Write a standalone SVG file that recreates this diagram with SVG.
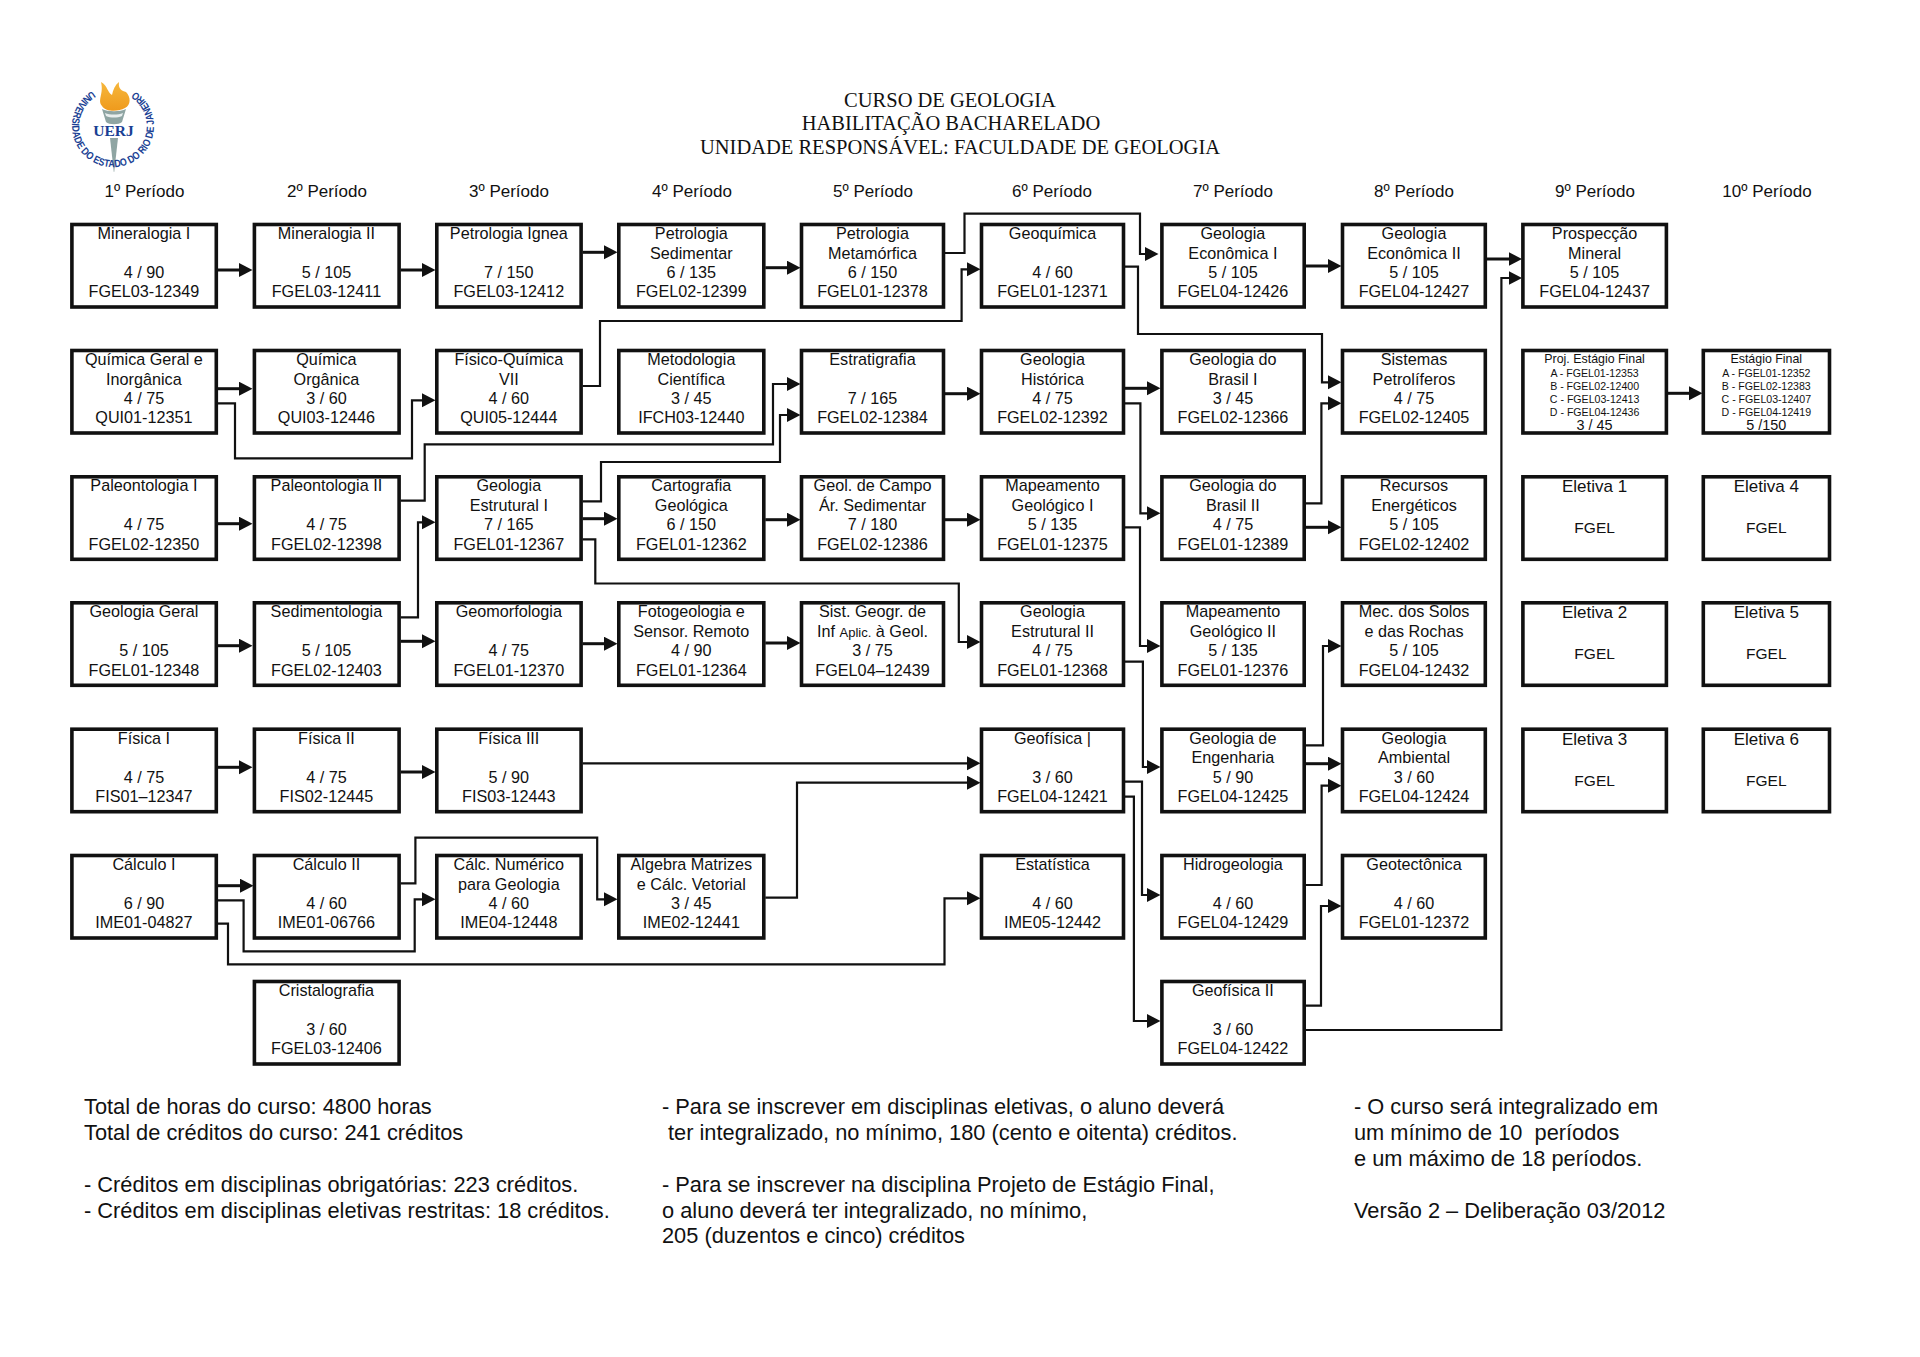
<svg xmlns="http://www.w3.org/2000/svg" width="1920" height="1357" viewBox="0 0 1920 1357">
<style>
text{font-family:"Liberation Sans",Arial,sans-serif;fill:#111}
.b{fill:#fff;stroke:#111;stroke-width:3.6}
.n text{font-size:16.2px;text-anchor:middle}
.n .s{font-size:10.6px}
.n .m{font-size:12.4px}
.n .f{font-size:14.4px}
.n .e{font-size:17px}
.n .g{font-size:15.5px}
.n .x{font-size:13px}
.ti{font-family:"Liberation Serif","Times New Roman",serif;font-size:20.5px;text-anchor:middle}
.p{font-size:17px;text-anchor:middle}
.note{font-size:21.8px;white-space:pre}
.c{fill:none;stroke:#111;stroke-width:3;marker-end:url(#ah)}
.t{fill:none;stroke:#111;stroke-width:2.2;marker-end:url(#ah)}
</style>
<defs>
<marker id="ah" markerUnits="userSpaceOnUse" markerWidth="15" markerHeight="15" refX="7" refY="7" orient="auto"><path d="M0 0L13.500 7L0 14Z" fill="#111"/></marker>
<path id="ring" d="M92 91A41 41 0 1 0 134 91"/>
<linearGradient id="fl" x1="0" y1="0" x2="0" y2="1"><stop offset="0" stop-color="#f6b73c"/><stop offset="1" stop-color="#ef9a1c"/></linearGradient>
</defs>
<rect width="1920" height="1357" fill="#fff"/>

<g id="logo">
<path d="M101 82C108 86 107 92 112 95C113 90 115 85 119 82C118 89 122 91 126 92C131 97 131 105 125 108C118 112 106 112 102 106C97 100 104 94 101 82Z" fill="url(#fl)"/>
<path d="M102 109C108 112 120 112 126 109L122 122C119 125 109 125 106 122Z" fill="#8fa5a3"/>
<path d="M105 113C110 115 118 115 123 113L122 116C117 118 111 118 106 116Z" fill="#e8eeee"/>
<path d="M110 138H118L114.200 172H113.800Z" fill="#8fa5a3"/>
<text x="113.500" y="136" style="font-family:'Liberation Serif',serif;font-weight:bold;font-size:15.500px;text-anchor:middle;fill:#1a3f94">UERJ</text>
<text style="font-size:10.500px;font-weight:bold;fill:#1a3f94"><textPath href="#ring" textLength="212" lengthAdjust="spacingAndGlyphs">UNIVERSIDADE DO ESTADO DO RIO DE JANEIRO</textPath></text>
</g>

<g id="titulo">
<text class="ti" x="950" y="106.500">CURSO DE GEOLOGIA</text>
<text class="ti" x="951" y="130">HABILITAÇÃO BACHARELADO</text>
<text class="ti" x="960" y="153.500">UNIDADE RESPONSÁVEL: FACULDADE DE GEOLOGIA</text>
</g>
<g id="periodos">
<text class="p" x="144.500" y="197">1º Período</text>
<text class="p" x="327" y="197">2º Período</text>
<text class="p" x="509" y="197">3º Período</text>
<text class="p" x="692" y="197">4º Período</text>
<text class="p" x="873" y="197">5º Período</text>
<text class="p" x="1052" y="197">6º Período</text>
<text class="p" x="1233" y="197">7º Período</text>
<text class="p" x="1414" y="197">8º Período</text>
<text class="p" x="1595" y="197">9º Período</text>
<text class="p" x="1767" y="197">10º Período</text>
</g>

<g id="conectores">
<path class="c" d="M217.800 270H246"/><path class="c" d="M400.600 270H429"/><path class="c" d="M582.600 252.300H611"/><path class="c" d="M765.300 267.700H794"/>
<path class="t" d="M945 253H964.500V213.700H1140V254H1152"/>
<path class="t" d="M582.600 386H600V321H961.600V269.300H974"/>
<path class="t" d="M1125 266.700H1138V334H1322V382.300H1335"/>
<path class="c" d="M1305.700 266H1335"/><path class="c" d="M1486.800 259H1515.500"/>
<path class="t" d="M1305.700 1030H1501.400V278H1515.500"/>
<path class="c" d="M1667.900 393.300H1696"/>
<path class="c" d="M217.800 388.700H246"/>
<path class="t" d="M217.800 403.300H235V458.300H412V400.300H429"/>
<path class="c" d="M945 393.700H974"/><path class="c" d="M1125 388.300H1154"/>
<path class="t" d="M1125 403.300H1140.400V513.300H1154"/>
<path class="t" d="M400.600 500.700H424.700V444.300H773V384H794"/>
<path class="t" d="M582.600 501.300H601V462H780V415H794"/>
<path class="c" d="M765.300 519.700H794"/><path class="c" d="M945 519.700H974"/>
<path class="t" d="M1125 527.300H1140V646H1154"/>
<path class="c" d="M582.600 518.700H611"/>
<path class="t" d="M582.600 539.300H595.300V583.500H958.800V642H974"/>
<path class="t" d="M400.600 617.300H418V522.300H429"/>
<path class="c" d="M400.600 641.300H429"/><path class="c" d="M582.600 643.700H611"/><path class="c" d="M765.300 643H794"/><path class="c" d="M217.800 645.700H246"/><path class="c" d="M217.800 523.700H246"/>
<path class="t" d="M1305.700 503.300H1321.400V403.300H1335"/>
<path class="c" d="M1305.700 527.300H1335"/>
<path class="t" d="M1305.700 745.300H1323V646H1335"/>
<path class="c" d="M1305.700 763.700H1335"/>
<path class="t" d="M1305.700 885H1321.600V785.700H1335"/>
<path class="t" d="M1305.700 1005.700H1321V906H1335"/>
<path class="t" d="M1125 661.700H1142.900V767H1154"/>
<path class="t" d="M1125 781.700H1142V895H1154"/>
<path class="t" d="M1125 796.700H1133.900V1021H1154"/>
<path class="t" d="M582.600 763.300H974"/>
<path class="t" d="M765.300 897.700H797V782.700H974"/>
<path class="c" d="M217.800 767.300H246"/><path class="c" d="M400.600 772H429"/>
<path class="c" d="M217.800 885.700H247"/>
<path class="t" d="M217.800 900.300H243.600V951.300H414.700V899.300H429"/>
<path class="t" d="M217.800 923.700H228V964.300H944.500V898.300H974"/>
<path class="t" d="M400.600 883.300H415.400V837.700H597.200V899.300H611"/>
</g>

<g id="n01" class="n" transform="translate(71.900,224.500)"><rect class="b" width="144.400" height="82.500"/><text x="72" y="14.500">Mineralogia I</text><text x="72" y="53.500">4 / 90</text><text x="72" y="72.800">FGEL03-12349</text></g>
<g id="n02" class="n" transform="translate(254.400,224.500)"><rect class="b" width="144.700" height="82.500"/><text x="72" y="14.500">Mineralogia II</text><text x="72" y="53.500">5 / 105</text><text x="72" y="72.800">FGEL03-12411</text></g>
<g id="n03" class="n" transform="translate(436.800,224.500)"><rect class="b" width="144.300" height="82.500"/><text x="72" y="14.500">Petrologia Ígnea</text><text x="72" y="53.500">7 / 150</text><text x="72" y="72.800">FGEL03-12412</text></g>
<g id="n04" class="n" transform="translate(618.800,224.500)"><rect class="b" width="145" height="82.500"/><text x="72.500" y="14.500">Petrologia</text><text x="72.500" y="34.300">Sedimentar</text><text x="72.500" y="53.500">6 / 135</text><text x="72.500" y="72.800">FGEL02-12399</text></g>
<g id="n05" class="n" transform="translate(801.500,224.500)"><rect class="b" width="142" height="82.500"/><text x="71" y="14.500">Petrologia</text><text x="71" y="34.300">Metamórfica</text><text x="71" y="53.500">6 / 150</text><text x="71" y="72.800">FGEL01-12378</text></g>
<g id="n06" class="n" transform="translate(981.500,224.500)"><rect class="b" width="142" height="82.500"/><text x="71" y="14.500">Geoquímica</text><text x="71" y="53.500">4 / 60</text><text x="71" y="72.800">FGEL01-12371</text></g>
<g id="n07" class="n" transform="translate(1161.900,224.500)"><rect class="b" width="142.300" height="82.500"/><text x="71" y="14.500">Geologia</text><text x="71" y="34.300">Econômica I</text><text x="71" y="53.500">5 / 105</text><text x="71" y="72.800">FGEL04-12426</text></g>
<g id="n08" class="n" transform="translate(1342.500,224.500)"><rect class="b" width="142.800" height="82.500"/><text x="71.500" y="14.500">Geologia</text><text x="71.500" y="34.300">Econômica II</text><text x="71.500" y="53.500">5 / 105</text><text x="71.500" y="72.800">FGEL04-12427</text></g>
<g id="n09" class="n" transform="translate(1522.900,224.500)"><rect class="b" width="143.500" height="82.500"/><text x="71.700" y="14.500">Prospecção</text><text x="71.700" y="34.300">Mineral</text><text x="71.700" y="53.500">5 / 105</text><text x="71.700" y="72.800">FGEL04-12437</text></g>

<g id="n10" class="n" transform="translate(71.900,350.500)"><rect class="b" width="144.400" height="82.500"/><text x="72" y="14.500">Química Geral e</text><text x="72" y="34.300">Inorgânica</text><text x="72" y="53.500">4 / 75</text><text x="72" y="72.800">QUI01-12351</text></g>
<g id="n11" class="n" transform="translate(254.400,350.500)"><rect class="b" width="144.700" height="82.500"/><text x="72" y="14.500">Química</text><text x="72" y="34.300">Orgânica</text><text x="72" y="53.500">3 / 60</text><text x="72" y="72.800">QUI03-12446</text></g>
<g id="n12" class="n" transform="translate(436.800,350.500)"><rect class="b" width="144.300" height="82.500"/><text x="72" y="14.500">Físico-Química</text><text x="72" y="34.300">VII</text><text x="72" y="53.500">4 / 60</text><text x="72" y="72.800">QUI05-12444</text></g>
<g id="n13" class="n" transform="translate(618.800,350.500)"><rect class="b" width="145" height="82.500"/><text x="72.500" y="14.500">Metodologia</text><text x="72.500" y="34.300">Científica</text><text x="72.500" y="53.500">3 / 45</text><text x="72.500" y="72.800">IFCH03-12440</text></g>
<g id="n14" class="n" transform="translate(801.500,350.500)"><rect class="b" width="142" height="82.500"/><text x="71" y="14.500">Estratigrafia</text><text x="71" y="53.500">7 / 165</text><text x="71" y="72.800">FGEL02-12384</text></g>
<g id="n15" class="n" transform="translate(981.500,350.500)"><rect class="b" width="142" height="82.500"/><text x="71" y="14.500">Geologia</text><text x="71" y="34.300">Histórica</text><text x="71" y="53.500">4 / 75</text><text x="71" y="72.800">FGEL02-12392</text></g>
<g id="n16" class="n" transform="translate(1161.900,350.500)"><rect class="b" width="142.300" height="82.500"/><text x="71" y="14.500">Geologia do</text><text x="71" y="34.300">Brasil I</text><text x="71" y="53.500">3 / 45</text><text x="71" y="72.800">FGEL02-12366</text></g>
<g id="n17" class="n" transform="translate(1342.500,350.500)"><rect class="b" width="142.800" height="82.500"/><text x="71.500" y="14.500">Sistemas</text><text x="71.500" y="34.300">Petrolíferos</text><text x="71.500" y="53.500">4 / 75</text><text x="71.500" y="72.800">FGEL02-12405</text></g>
<g id="n18" class="n" transform="translate(1522.900,350.500)"><rect class="b" width="143.500" height="82.500"/><text class="m" x="71.700" y="12.500">Proj. Estágio Final</text><text class="s" x="71.700" y="26">A - FGEL01-12353</text><text class="s" x="71.700" y="39">B - FGEL02-12400</text><text class="s" x="71.700" y="52">C - FGEL03-12413</text><text class="s" x="71.700" y="65">D - FGEL04-12436</text><text class="f" x="71.700" y="79">3 / 45</text></g>
<g id="n19" class="n" transform="translate(1703.300,350.500)"><rect class="b" width="126.200" height="82.500"/><text class="m" x="63" y="12.500">Estágio Final</text><text class="s" x="63" y="26">A - FGEL01-12352</text><text class="s" x="63" y="39">B - FGEL02-12383</text><text class="s" x="63" y="52">C - FGEL03-12407</text><text class="s" x="63" y="65">D - FGEL04-12419</text><text class="f" x="63" y="79">5 /150</text></g>

<g id="n20" class="n" transform="translate(71.900,476.800)"><rect class="b" width="144.400" height="82.500"/><text x="72" y="14.500">Paleontologia I</text><text x="72" y="53.500">4 / 75</text><text x="72" y="72.800">FGEL02-12350</text></g>
<g id="n21" class="n" transform="translate(254.400,476.800)"><rect class="b" width="144.700" height="82.500"/><text x="72" y="14.500">Paleontologia II</text><text x="72" y="53.500">4 / 75</text><text x="72" y="72.800">FGEL02-12398</text></g>
<g id="n22" class="n" transform="translate(436.800,476.800)"><rect class="b" width="144.300" height="82.500"/><text x="72" y="14.500">Geologia</text><text x="72" y="34.300">Estrutural I</text><text x="72" y="53.500">7 / 165</text><text x="72" y="72.800">FGEL01-12367</text></g>
<g id="n23" class="n" transform="translate(618.800,476.800)"><rect class="b" width="145" height="82.500"/><text x="72.500" y="14.500">Cartografia</text><text x="72.500" y="34.300">Geológica</text><text x="72.500" y="53.500">6 / 150</text><text x="72.500" y="72.800">FGEL01-12362</text></g>
<g id="n24" class="n" transform="translate(801.500,476.800)"><rect class="b" width="142" height="82.500"/><text x="71" y="14.500">Geol. de Campo</text><text x="71" y="34.300">Ár. Sedimentar</text><text x="71" y="53.500">7 / 180</text><text x="71" y="72.800">FGEL02-12386</text></g>
<g id="n25" class="n" transform="translate(981.500,476.800)"><rect class="b" width="142" height="82.500"/><text x="71" y="14.500">Mapeamento</text><text x="71" y="34.300">Geológico I</text><text x="71" y="53.500">5 / 135</text><text x="71" y="72.800">FGEL01-12375</text></g>
<g id="n26" class="n" transform="translate(1161.900,476.800)"><rect class="b" width="142.300" height="82.500"/><text x="71" y="14.500">Geologia do</text><text x="71" y="34.300">Brasil II</text><text x="71" y="53.500">4 / 75</text><text x="71" y="72.800">FGEL01-12389</text></g>
<g id="n27" class="n" transform="translate(1342.500,476.800)"><rect class="b" width="142.800" height="82.500"/><text x="71.500" y="14.500">Recursos</text><text x="71.500" y="34.300">Energéticos</text><text x="71.500" y="53.500">5 / 105</text><text x="71.500" y="72.800">FGEL02-12402</text></g>
<g id="n28" class="n" transform="translate(1522.900,476.800)"><rect class="b" width="143.500" height="82.500"/><text class="e" x="71.700" y="15.500">Eletiva 1</text><text class="g" x="71.700" y="56.500">FGEL</text></g>
<g id="n29" class="n" transform="translate(1703.300,476.800)"><rect class="b" width="126.200" height="82.500"/><text class="e" x="63" y="15.500">Eletiva 4</text><text class="g" x="63" y="56.500">FGEL</text></g>

<g id="n30" class="n" transform="translate(71.900,602.800)"><rect class="b" width="144.400" height="82.500"/><text x="72" y="14.500">Geologia Geral</text><text x="72" y="53.500">5 / 105</text><text x="72" y="72.800">FGEL01-12348</text></g>
<g id="n31" class="n" transform="translate(254.400,602.800)"><rect class="b" width="144.700" height="82.500"/><text x="72" y="14.500">Sedimentologia</text><text x="72" y="53.500">5 / 105</text><text x="72" y="72.800">FGEL02-12403</text></g>
<g id="n32" class="n" transform="translate(436.800,602.800)"><rect class="b" width="144.300" height="82.500"/><text x="72" y="14.500">Geomorfologia</text><text x="72" y="53.500">4 / 75</text><text x="72" y="72.800">FGEL01-12370</text></g>
<g id="n33" class="n" transform="translate(618.800,602.800)"><rect class="b" width="145" height="82.500"/><text x="72.500" y="14.500">Fotogeologia e</text><text x="72.500" y="34.300">Sensor. Remoto</text><text x="72.500" y="53.500">4 / 90</text><text x="72.500" y="72.800">FGEL01-12364</text></g>
<g id="n34" class="n" transform="translate(801.500,602.800)"><rect class="b" width="142" height="82.500"/><text x="71" y="14.500">Sist. Geogr. de</text><text x="71" y="34.300">Inf <tspan class="x">Aplic.</tspan> à Geol.</text><text x="71" y="53.500">3 / 75</text><text x="71" y="72.800">FGEL04–12439</text></g>
<g id="n35" class="n" transform="translate(981.500,602.800)"><rect class="b" width="142" height="82.500"/><text x="71" y="14.500">Geologia</text><text x="71" y="34.300">Estrutural II</text><text x="71" y="53.500">4 / 75</text><text x="71" y="72.800">FGEL01-12368</text></g>
<g id="n36" class="n" transform="translate(1161.900,602.800)"><rect class="b" width="142.300" height="82.500"/><text x="71" y="14.500">Mapeamento</text><text x="71" y="34.300">Geológico II</text><text x="71" y="53.500">5 / 135</text><text x="71" y="72.800">FGEL01-12376</text></g>
<g id="n37" class="n" transform="translate(1342.500,602.800)"><rect class="b" width="142.800" height="82.500"/><text x="71.500" y="14.500">Mec. dos Solos</text><text x="71.500" y="34.300">e das Rochas</text><text x="71.500" y="53.500">5 / 105</text><text x="71.500" y="72.800">FGEL04-12432</text></g>
<g id="n38" class="n" transform="translate(1522.900,602.800)"><rect class="b" width="143.500" height="82.500"/><text class="e" x="71.700" y="15.500">Eletiva 2</text><text class="g" x="71.700" y="56.500">FGEL</text></g>
<g id="n39" class="n" transform="translate(1703.300,602.800)"><rect class="b" width="126.200" height="82.500"/><text class="e" x="63" y="15.500">Eletiva 5</text><text class="g" x="63" y="56.500">FGEL</text></g>

<g id="n40" class="n" transform="translate(71.900,729.200)"><rect class="b" width="144.400" height="82.500"/><text x="72" y="14.500">Física I</text><text x="72" y="53.500">4 / 75</text><text x="72" y="72.800">FIS01–12347</text></g>
<g id="n41" class="n" transform="translate(254.400,729.200)"><rect class="b" width="144.700" height="82.500"/><text x="72" y="14.500">Física II</text><text x="72" y="53.500">4 / 75</text><text x="72" y="72.800">FIS02-12445</text></g>
<g id="n42" class="n" transform="translate(436.800,729.200)"><rect class="b" width="144.300" height="82.500"/><text x="72" y="14.500">Física III</text><text x="72" y="53.500">5 / 90</text><text x="72" y="72.800">FIS03-12443</text></g>
<g id="n43" class="n" transform="translate(981.500,729.200)"><rect class="b" width="142" height="82.500"/><text x="71" y="14.500">Geofísica |</text><text x="71" y="53.500">3 / 60</text><text x="71" y="72.800">FGEL04-12421</text></g>
<g id="n44" class="n" transform="translate(1161.900,729.200)"><rect class="b" width="142.300" height="82.500"/><text x="71" y="14.500">Geologia de</text><text x="71" y="34.300">Engenharia</text><text x="71" y="53.500">5 / 90</text><text x="71" y="72.800">FGEL04-12425</text></g>
<g id="n45" class="n" transform="translate(1342.500,729.200)"><rect class="b" width="142.800" height="82.500"/><text x="71.500" y="14.500">Geologia</text><text x="71.500" y="34.300">Ambiental</text><text x="71.500" y="53.500">3 / 60</text><text x="71.500" y="72.800">FGEL04-12424</text></g>
<g id="n46" class="n" transform="translate(1522.900,729.200)"><rect class="b" width="143.500" height="82.500"/><text class="e" x="71.700" y="15.500">Eletiva 3</text><text class="g" x="71.700" y="56.500">FGEL</text></g>
<g id="n47" class="n" transform="translate(1703.300,729.200)"><rect class="b" width="126.200" height="82.500"/><text class="e" x="63" y="15.500">Eletiva 6</text><text class="g" x="63" y="56.500">FGEL</text></g>

<g id="n50" class="n" transform="translate(71.900,855.500)"><rect class="b" width="144.400" height="82.500"/><text x="72" y="14.500">Cálculo I</text><text x="72" y="53.500">6 / 90</text><text x="72" y="72.800">IME01-04827</text></g>
<g id="n51" class="n" transform="translate(254.400,855.500)"><rect class="b" width="144.700" height="82.500"/><text x="72" y="14.500">Cálculo II</text><text x="72" y="53.500">4 / 60</text><text x="72" y="72.800">IME01-06766</text></g>
<g id="n52" class="n" transform="translate(436.800,855.500)"><rect class="b" width="144.300" height="82.500"/><text x="72" y="14.500">Cálc. Numérico</text><text x="72" y="34.300">para Geologia</text><text x="72" y="53.500">4 / 60</text><text x="72" y="72.800">IME04-12448</text></g>
<g id="n53" class="n" transform="translate(618.800,855.500)"><rect class="b" width="145" height="82.500"/><text x="72.500" y="14.500">Álgebra Matrizes</text><text x="72.500" y="34.300">e Cálc. Vetorial</text><text x="72.500" y="53.500">3 / 45</text><text x="72.500" y="72.800">IME02-12441</text></g>
<g id="n54" class="n" transform="translate(981.500,855.500)"><rect class="b" width="142" height="82.500"/><text x="71" y="14.500">Estatística</text><text x="71" y="53.500">4 / 60</text><text x="71" y="72.800">IME05-12442</text></g>
<g id="n55" class="n" transform="translate(1161.900,855.500)"><rect class="b" width="142.300" height="82.500"/><text x="71" y="14.500">Hidrogeologia</text><text x="71" y="53.500">4 / 60</text><text x="71" y="72.800">FGEL04-12429</text></g>
<g id="n56" class="n" transform="translate(1342.500,855.500)"><rect class="b" width="142.800" height="82.500"/><text x="71.500" y="14.500">Geotectônica</text><text x="71.500" y="53.500">4 / 60</text><text x="71.500" y="72.800">FGEL01-12372</text></g>

<g id="n60" class="n" transform="translate(254.400,981.500)"><rect class="b" width="144.700" height="82.500"/><text x="72" y="14.500">Cristalografia</text><text x="72" y="53.500">3 / 60</text><text x="72" y="72.800">FGEL03-12406</text></g>
<g id="n61" class="n" transform="translate(1161.900,981.500)"><rect class="b" width="142.300" height="82.500"/><text x="71" y="14.500">Geofísica II</text><text x="71" y="53.500">3 / 60</text><text x="71" y="72.800">FGEL04-12422</text></g>

<g id="notas">
<text class="note" x="84" y="1114">Total de horas do curso: 4800 horas</text>
<text class="note" x="84" y="1140">Total de créditos do curso: 241 créditos</text>
<text class="note" x="84" y="1192">- Créditos em disciplinas obrigatórias: 223 créditos.</text>
<text class="note" x="84" y="1217.500">- Créditos em disciplinas eletivas restritas: 18 créditos.</text>
<text class="note" x="662" y="1114">- Para se inscrever em disciplinas eletivas, o aluno deverá</text>
<text class="note" x="668" y="1140">ter integralizado, no mínimo, 180 (cento e oitenta) créditos.</text>
<text class="note" x="662" y="1192">- Para se inscrever na disciplina Projeto de Estágio Final,</text>
<text class="note" x="662" y="1217.500">o aluno deverá ter integralizado, no mínimo,</text>
<text class="note" x="662" y="1243">205 (duzentos e cinco) créditos</text>
<text class="note" x="1354" y="1114">- O curso será integralizado em</text>
<text class="note" x="1354" y="1140">um mínimo de 10  períodos</text>
<text class="note" x="1354" y="1166">e um máximo de 18 períodos.</text>
<text class="note" x="1354" y="1217.500">Versão 2 – Deliberação 03/2012</text>
</g>
</svg>
